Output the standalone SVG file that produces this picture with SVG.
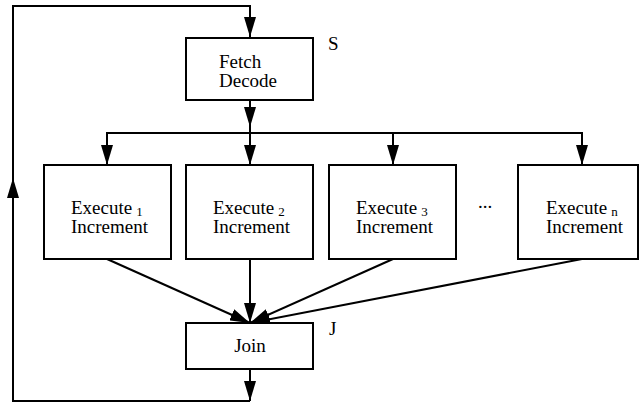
<svg xmlns="http://www.w3.org/2000/svg" width="639" height="403" viewBox="0 0 639 403">
<style>
.box{fill:#fff;stroke:#000;stroke-width:2}
text{font-family:'Liberation Serif','DejaVu Serif',serif;font-size:19px;fill:#000}
.sub{font-size:13px}
.c{fill:none;stroke:#000;stroke-width:2}
</style>
<defs>
<marker id="ah" markerUnits="userSpaceOnUse" markerWidth="20" markerHeight="12" refX="20" refY="6" orient="auto">
<path d="M0,0 L20,6 L0,12 Z" fill="#000"/>
</marker>
</defs>
<rect width="639" height="403" fill="#fff"/>
<g id="connectors">
<polyline class="c" points="250,401 13,401 13,6 250,6 250,37" marker-end="url(#ah)"/>
<line class="c" x1="13" y1="300" x2="13" y2="178" marker-end="url(#ah)"/>
<line class="c" x1="250" y1="100" x2="250" y2="127" marker-end="url(#ah)"/>
<line class="c" x1="250" y1="127" x2="250" y2="133"/>
<line class="c" x1="106" y1="133" x2="583" y2="133"/>
<line class="c" x1="107" y1="133" x2="107" y2="165" marker-end="url(#ah)"/>
<line class="c" x1="250" y1="133" x2="250" y2="165" marker-end="url(#ah)"/>
<line class="c" x1="393" y1="133" x2="393" y2="165" marker-end="url(#ah)"/>
<line class="c" x1="582" y1="133" x2="582" y2="165" marker-end="url(#ah)"/>
<line class="c" x1="107" y1="259" x2="250" y2="323" marker-end="url(#ah)"/>
<line class="c" x1="250" y1="259" x2="250" y2="323" marker-end="url(#ah)"/>
<line class="c" x1="393" y1="259" x2="250" y2="323" marker-end="url(#ah)"/>
<line class="c" x1="582" y1="259" x2="250" y2="323" marker-end="url(#ah)"/>
<line class="c" x1="250" y1="369" x2="250" y2="401" marker-end="url(#ah)"/>
</g>
<g id="fetch">
<rect class="box" x="186" y="38" width="127" height="62"/>
<text x="219" y="68" font-family="Liberation Serif, serif">Fetch</text>
<text x="219" y="87" font-family="Liberation Serif, serif">Decode</text>
<text x="328" y="50" font-family="Liberation Serif, serif">S</text>
</g>
<g id="exec1">
<rect class="box" x="44" y="165" width="127" height="94"/>
<text x="71" y="214" font-family="Liberation Serif, serif">Execute<tspan class="sub" dx="4" dy="2">1</tspan></text>
<text x="71" y="233" font-family="Liberation Serif, serif">Increment</text>
</g>
<g id="exec2">
<rect class="box" x="186" y="165" width="127" height="94"/>
<text x="213" y="214" font-family="Liberation Serif, serif">Execute<tspan class="sub" dx="4" dy="2">2</tspan></text>
<text x="213" y="233" font-family="Liberation Serif, serif">Increment</text>
</g>
<g id="exec3">
<rect class="box" x="329" y="165" width="127" height="94"/>
<text x="356" y="214" font-family="Liberation Serif, serif">Execute<tspan class="sub" dx="4" dy="2">3</tspan></text>
<text x="356" y="233" font-family="Liberation Serif, serif">Increment</text>
</g>
<g id="ellipsis">
<text x="485" y="208" text-anchor="middle" font-family="Liberation Serif, serif">...</text>
</g>
<g id="execn">
<rect class="box" x="518" y="165" width="120" height="94"/>
<text x="546" y="214" font-family="Liberation Serif, serif">Execute<tspan class="sub" dx="4" dy="2">n</tspan></text>
<text x="546" y="233" font-family="Liberation Serif, serif">Increment</text>
</g>
<g id="join">
<rect class="box" x="186" y="323" width="127" height="46"/>
<text x="250" y="352" text-anchor="middle" font-family="Liberation Serif, serif">Join</text>
<text x="329" y="335" font-family="Liberation Serif, serif">J</text>
</g>
</svg>
